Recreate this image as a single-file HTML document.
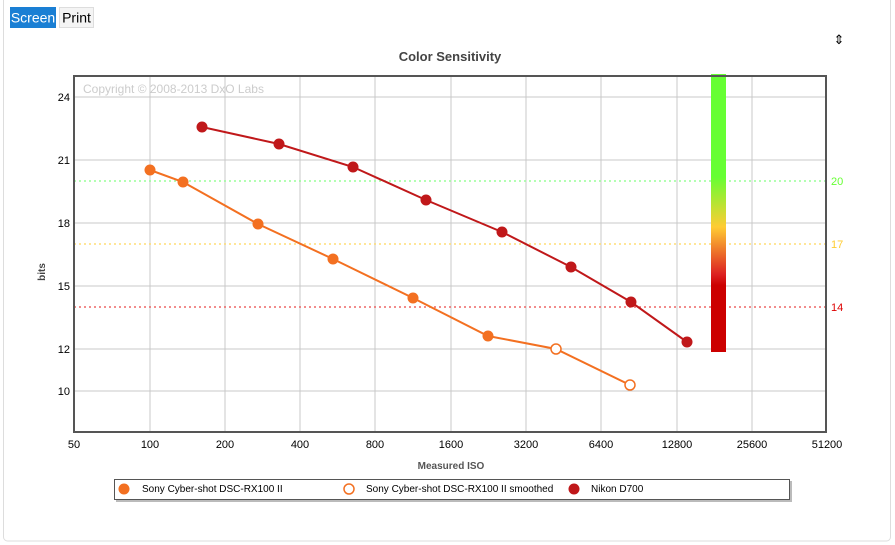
<!DOCTYPE html>
<html><head><meta charset="utf-8"><style>
body{margin:0;background:#fff;font-family:"Liberation Sans",sans-serif;}
.wrap{position:relative;width:895px;height:545px;overflow:hidden}
</style></head><body><div class="wrap">
<svg width="895" height="545" xmlns="http://www.w3.org/2000/svg" font-family="Liberation Sans, sans-serif">
<rect x="3.5" y="-5" width="887" height="546" rx="4" fill="#fff" stroke="#ddd"/>
<rect x="10" y="7" width="46" height="21" fill="#1a7fd4"/>
<text x="33" y="22.5" font-size="14" fill="#fff" text-anchor="middle">Screen</text>
<rect x="59.5" y="7.5" width="34" height="20" fill="#f4f4f4" stroke="#ddd"/>
<text x="76.5" y="22.5" font-size="14" fill="#000" text-anchor="middle">Print</text>
<text x="839" y="44" font-size="13" fill="#000" text-anchor="middle">⇕</text>
<text x="450" y="61" font-size="13" font-weight="bold" fill="#444" text-anchor="middle">Color Sensitivity</text>
<g stroke="#c8c8c8" stroke-width="1">
<line x1="150" y1="76" x2="150" y2="432"/><line x1="225" y1="76" x2="225" y2="432"/><line x1="300" y1="76" x2="300" y2="432"/><line x1="375" y1="76" x2="375" y2="432"/><line x1="451" y1="76" x2="451" y2="432"/><line x1="526" y1="76" x2="526" y2="432"/><line x1="601" y1="76" x2="601" y2="432"/><line x1="677" y1="76" x2="677" y2="432"/><line x1="752" y1="76" x2="752" y2="432"/>
<line x1="74" y1="97" x2="826" y2="97"/><line x1="74" y1="160" x2="826" y2="160"/><line x1="74" y1="223" x2="826" y2="223"/><line x1="74" y1="286" x2="826" y2="286"/><line x1="74" y1="349" x2="826" y2="349"/><line x1="74" y1="391" x2="826" y2="391"/>
</g>
<text x="83" y="93" font-size="12" fill="#ccc">Copyright © 2008-2013 DxO Labs</text>
<line x1="74" y1="181" x2="826" y2="181" stroke="#9f9" stroke-width="1.5" stroke-dasharray="2,3"/>
<line x1="74" y1="244" x2="826" y2="244" stroke="#fd7" stroke-width="1.5" stroke-dasharray="2,3"/>
<line x1="74" y1="307" x2="826" y2="307" stroke="#e66" stroke-width="1.5" stroke-dasharray="2,3"/>
<defs><linearGradient id="g" x1="0" y1="0" x2="0" y2="1">
<stop offset="0" stop-color="#6f3"/><stop offset="0.37" stop-color="#6f3"/><stop offset="0.55" stop-color="#fc3"/><stop offset="0.72" stop-color="#d22"/><stop offset="0.76" stop-color="#c00"/><stop offset="1" stop-color="#c00"/></linearGradient></defs>
<rect x="711" y="74" width="15" height="278" fill="url(#g)"/>
<rect x="74" y="76" width="752" height="356" fill="none" stroke="#555" stroke-width="2"/>
<g font-size="11" fill="#000" text-anchor="end">
<text x="70" y="101">24</text><text x="70" y="164">21</text><text x="70" y="227">18</text><text x="70" y="290">15</text><text x="70" y="353">12</text><text x="70" y="395">10</text></g>
<g font-size="11" text-anchor="start">
<text x="831" y="185" fill="#6f3">20</text><text x="831" y="248" fill="#fc3">17</text><text x="831" y="311" fill="#d00">14</text></g>
<g font-size="11" fill="#000" text-anchor="middle">
<text x="74" y="448">50</text><text x="150" y="448">100</text><text x="225" y="448">200</text><text x="300" y="448">400</text><text x="375" y="448">800</text><text x="451" y="448">1600</text><text x="526" y="448">3200</text><text x="601" y="448">6400</text><text x="677" y="448">12800</text><text x="752" y="448">25600</text><text x="827" y="448">51200</text></g>
<text x="451" y="469" font-size="10" font-weight="bold" fill="#555" text-anchor="middle">Measured ISO</text>
<text x="45" y="272" font-size="10" font-weight="bold" fill="#444" text-anchor="middle" transform="rotate(-90 45 272)">bits</text>
<polyline fill="none" stroke="#f37021" stroke-width="2" points="150,170 183,182 258,224 333,259 413,298 488,336 556,349 630,385"/>
<g fill="#f37021"><circle cx="150" cy="170" r="5.5"/><circle cx="183" cy="182" r="5.5"/><circle cx="258" cy="224" r="5.5"/><circle cx="333" cy="259" r="5.5"/><circle cx="413" cy="298" r="5.5"/><circle cx="488" cy="336" r="5.5"/></g>
<g fill="#fff" stroke="#f37021" stroke-width="1.5"><circle cx="556" cy="349" r="5"/><circle cx="630" cy="385" r="5"/></g>
<polyline fill="none" stroke="#c0181a" stroke-width="2" points="202,127 279,144 353,167 426,200 502,232 571,267 631,302 687,342"/>
<g fill="#c0181a"><circle cx="202" cy="127" r="5.5"/><circle cx="279" cy="144" r="5.5"/><circle cx="353" cy="167" r="5.5"/><circle cx="426" cy="200" r="5.5"/><circle cx="502" cy="232" r="5.5"/><circle cx="571" cy="267" r="5.5"/><circle cx="631" cy="302" r="5.5"/><circle cx="687" cy="342" r="5.5"/></g>
<rect x="116" y="481" width="676" height="21" fill="#bbb"/>
<rect x="114.5" y="479.5" width="675" height="20" fill="#fff" stroke="#555"/>
<circle cx="124" cy="489" r="5.5" fill="#f37021"/>
<text x="142" y="492" font-size="10">Sony Cyber-shot DSC-RX100 II</text>
<circle cx="349" cy="489" r="5" fill="#fff" stroke="#f37021" stroke-width="1.5"/>
<text x="366" y="492" font-size="10">Sony Cyber-shot DSC-RX100 II smoothed</text>
<circle cx="574" cy="489" r="5.5" fill="#c0181a"/>
<text x="591" y="492" font-size="10">Nikon D700</text>
</svg></div></body></html>
